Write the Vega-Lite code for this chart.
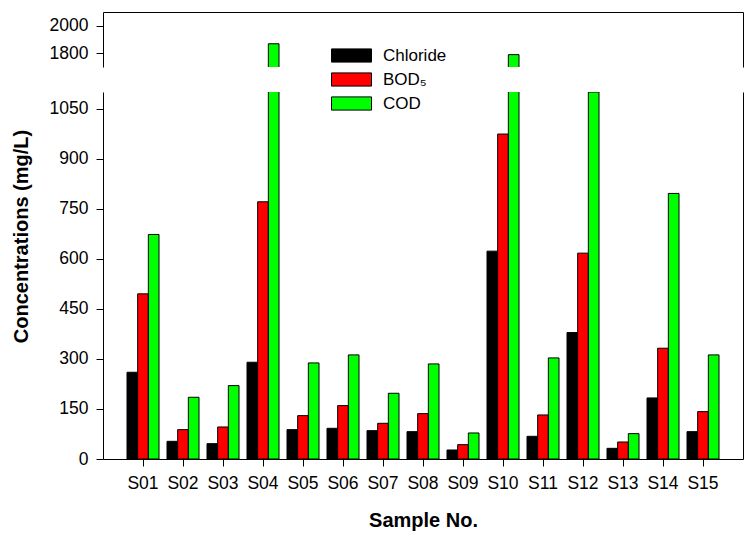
{
  "$schema": "https://vega.github.io/schema/vega-lite/v6.json",
  "background": "white",
  "padding": {"left": 10, "top": 12, "right": 3, "bottom": 5},
  "config": {
    "view": {"stroke": null},
    "font": "Liberation Sans",
    "axis": {
      "domainColor": "black", "domainWidth": 1, "tickColor": "black", "tickWidth": 1, "tickSize": 7,
      "labelColor": "black", "labelFontSize": 17.5, "labelFont": "Liberation Sans",
      "titleColor": "black", "titleFont": "Liberation Sans", "titleFontSize": 20, "titleFontWeight": "bold",
      "grid": false, "labelPadding": 8
    }
  },
  "datasets": {
    "conc": [
      {"sample": "S01", "series": "Chloride", "value": 260}, {"sample": "S01", "series": "BOD₅", "value": 495}, {"sample": "S01", "series": "COD", "value": 673},
      {"sample": "S02", "series": "Chloride", "value": 53}, {"sample": "S02", "series": "BOD₅", "value": 88}, {"sample": "S02", "series": "COD", "value": 185},
      {"sample": "S03", "series": "Chloride", "value": 46}, {"sample": "S03", "series": "BOD₅", "value": 96}, {"sample": "S03", "series": "COD", "value": 220},
      {"sample": "S04", "series": "Chloride", "value": 290}, {"sample": "S04", "series": "BOD₅", "value": 771}, {"sample": "S04", "series": "COD", "value": 1869},
      {"sample": "S05", "series": "Chloride", "value": 88}, {"sample": "S05", "series": "BOD₅", "value": 130}, {"sample": "S05", "series": "COD", "value": 288},
      {"sample": "S06", "series": "Chloride", "value": 92}, {"sample": "S06", "series": "BOD₅", "value": 160}, {"sample": "S06", "series": "COD", "value": 312},
      {"sample": "S07", "series": "Chloride", "value": 85}, {"sample": "S07", "series": "BOD₅", "value": 107}, {"sample": "S07", "series": "COD", "value": 197},
      {"sample": "S08", "series": "Chloride", "value": 82}, {"sample": "S08", "series": "BOD₅", "value": 136}, {"sample": "S08", "series": "COD", "value": 285},
      {"sample": "S09", "series": "Chloride", "value": 27}, {"sample": "S09", "series": "BOD₅", "value": 43}, {"sample": "S09", "series": "COD", "value": 78},
      {"sample": "S10", "series": "Chloride", "value": 623}, {"sample": "S10", "series": "BOD₅", "value": 974}, {"sample": "S10", "series": "COD", "value": 1790},
      {"sample": "S11", "series": "Chloride", "value": 68}, {"sample": "S11", "series": "BOD₅", "value": 132}, {"sample": "S11", "series": "COD", "value": 303},
      {"sample": "S12", "series": "Chloride", "value": 379}, {"sample": "S12", "series": "BOD₅", "value": 617}, {"sample": "S12", "series": "COD", "value": 1100},
      {"sample": "S13", "series": "Chloride", "value": 32}, {"sample": "S13", "series": "BOD₅", "value": 51}, {"sample": "S13", "series": "COD", "value": 76},
      {"sample": "S14", "series": "Chloride", "value": 183}, {"sample": "S14", "series": "BOD₅", "value": 332}, {"sample": "S14", "series": "COD", "value": 796},
      {"sample": "S15", "series": "Chloride", "value": 82}, {"sample": "S15", "series": "BOD₅", "value": 142}, {"sample": "S15", "series": "COD", "value": 312}
    ]
  },
  "spacing": 25,
  "vconcat": [
    {
      "width": 640, "height": 55,
      "data": {"name": "conc"},
      "transform": [{"filter": "datum.value > 1700"}],
      "encoding": {
        "x": {"field": "sample", "type": "nominal",
              "scale": {"domain": ["S01","S02","S03","S04","S05","S06","S07","S08","S09","S10","S11","S12","S13","S14","S15"], "paddingInner": 0.2, "paddingOuter": 0.6},
              "axis": {"orient": "top", "labels": false, "ticks": false, "title": null}},
        "xOffset": {"field": "series", "type": "nominal", "scale": {"domain": ["Chloride", "BOD₅", "COD"]}}
      },
      "layer": [
        {
          "mark": {"type": "bar", "clip": true, "stroke": "black", "strokeWidth": 1, "fill": "#00ff00"},
          "encoding": {
            "y": {"field": "value", "type": "quantitative", "scale": {"domain": [1700, 2100], "zero": false, "nice": false},
                  "axis": {"values": [1800, 2000], "title": null, "format": "d"}}
          }
        },
        {
          "mark": {"type": "bar", "clip": true, "opacity": 0},
          "encoding": {
            "y": {"field": "value", "type": "quantitative", "scale": {"domain": [1700, 2100], "zero": false, "nice": false},
                  "axis": {"orient": "right", "labels": false, "ticks": false, "title": null}}
          }
        }
      ],
      "resolve": {"axis": {"y": "independent"}}
    },
    {
      "width": 640, "height": 367,
      "data": {"name": "conc"},
      "encoding": {
        "x": {"field": "sample", "type": "nominal",
              "scale": {"domain": ["S01","S02","S03","S04","S05","S06","S07","S08","S09","S10","S11","S12","S13","S14","S15"], "paddingInner": 0.2, "paddingOuter": 0.6},
              "axis": {"title": "Sample No.", "labelAngle": 0, "titlePadding": 19}},
        "xOffset": {"field": "series", "type": "nominal", "scale": {"domain": ["Chloride", "BOD₅", "COD"]}},
        "color": {"field": "series", "type": "nominal", "scale": {"domain": ["Chloride", "BOD₅", "COD"], "range": ["#000000", "#ff0000", "#00ff00"]},
                  "legend": {"title": null, "orient": "none", "legendX": 238, "legendY": 33,
                             "symbolType": "M-2,-0.66H2V0.66H-2Z", "symbolSize": 400, "symbolStrokeColor": "black", "symbolStrokeWidth": 1, "symbolOpacity": 1,
                             "labelFontSize": 17, "labelFont": "Liberation Sans", "labelColor": "black", "labelOffset": 21, "rowPadding": 4}}
      },
      "layer": [
        {
          "mark": {"type": "bar", "clip": true, "stroke": "black", "strokeWidth": 1},
          "encoding": {
            "y": {"field": "value", "type": "quantitative", "scale": {"domain": [0, 1100], "nice": false},
                  "axis": {"values": [0, 150, 300, 450, 600, 750, 900, 1050], "title": "Concentrations (mg/L)", "titleX": -72, "titleY": 144, "format": "d"}}
          }
        },
        {
          "mark": {"type": "bar", "clip": true, "opacity": 0},
          "encoding": {
            "y": {"field": "value", "type": "quantitative", "scale": {"domain": [0, 1100], "nice": false},
                  "axis": {"orient": "right", "labels": false, "ticks": false, "title": null}}
          }
        }
      ],
      "resolve": {"axis": {"y": "independent"}}
    }
  ]
}
